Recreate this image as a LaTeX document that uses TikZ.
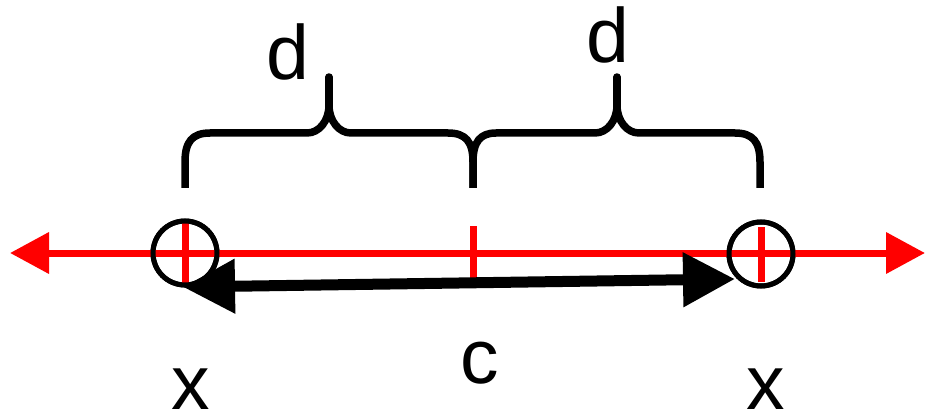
\documentclass[tikz,border=0pt]{standalone}
\usepackage{fontspec}
\setmainfont{Liberation Sans}
\usetikzlibrary{arrows.meta}

\begin{document}
\begin{tikzpicture}[x=1pt,y=-1pt,
  axis/.style={red,line width=7pt,{Triangle[length=39pt,width=40pt]}-{Triangle[length=39pt,width=40pt]}},
  tick/.style={red,line width=7pt},
  ring/.style={circle,draw,line width=5pt,minimum size=64pt,inner sep=0pt},
  span/.style={line width=11pt,{Triangle[length=52pt,width=52pt]}-{Triangle[length=52pt,width=52pt]}},
  brace/.style={line width=7.5pt,line join=round},
  lbl/.style={inner sep=0pt,anchor=base,font=\fontsize{77}{90}\selectfont}]
\useasboundingbox (0,0) rectangle (927,417);

\coordinate (axl) at (10,253);
\coordinate (axr) at (925,253);
\node[ring] (xl) at (185,253) {};
\node[ring] (xr) at (761,254) {};
\coordinate (mid) at (473,253);
\coordinate (cl) at (183,287);
\coordinate (cr) at (735,279);

\node[lbl] (d1) at (288,80) {d};
\node[lbl] (d2) at (608,63) {d};
\node[lbl] (c) at (480,383) {c};
\node[lbl] (x1) at (191,409) {x};
\node[lbl] (x2) at (766,409) {x};

% number line
\draw[axis] (axl) -- (axr);
\draw[tick] ([yshift=-30pt]xl.center) -- ([yshift=32pt]xl.center);
\draw[tick] ([yshift=-28pt]xr.center) -- ([yshift=27pt]xr.center);
\draw[tick] ([yshift=-31pt]mid) -- ([yshift=27pt]mid);
\node[ring] at (xl) {};
\node[ring] at (xr) {};

% distance c
\draw[span] (cl) -- (cr);

% braces
\draw[brace] (185,188) -- (185,162) .. controls (185,142) and (192,133) .. (210,133) -- (307,133)
  .. controls (319,133) and (329,121) .. (329,105);
\draw[brace] (329,105) .. controls (329,121) and (339,133) .. (351,133) -- (448,133)
  .. controls (466,133) and (473,142) .. (473,162) -- (473,188);
\draw[brace,line cap=round] (329,108) -- (329,77);
\draw[brace] (473,188) -- (473,162) .. controls (473,142) and (480,133) .. (496,133) -- (595,133)
  .. controls (607,133) and (617,121) .. (617,105);
\draw[brace] (617,105) .. controls (617,121) and (627,133) .. (639,133) -- (735,133)
  .. controls (753,133) and (760,142) .. (760,162) -- (760,188);
\draw[brace,line cap=round] (617,108) -- (617,77);
\end{tikzpicture}
\end{document}
